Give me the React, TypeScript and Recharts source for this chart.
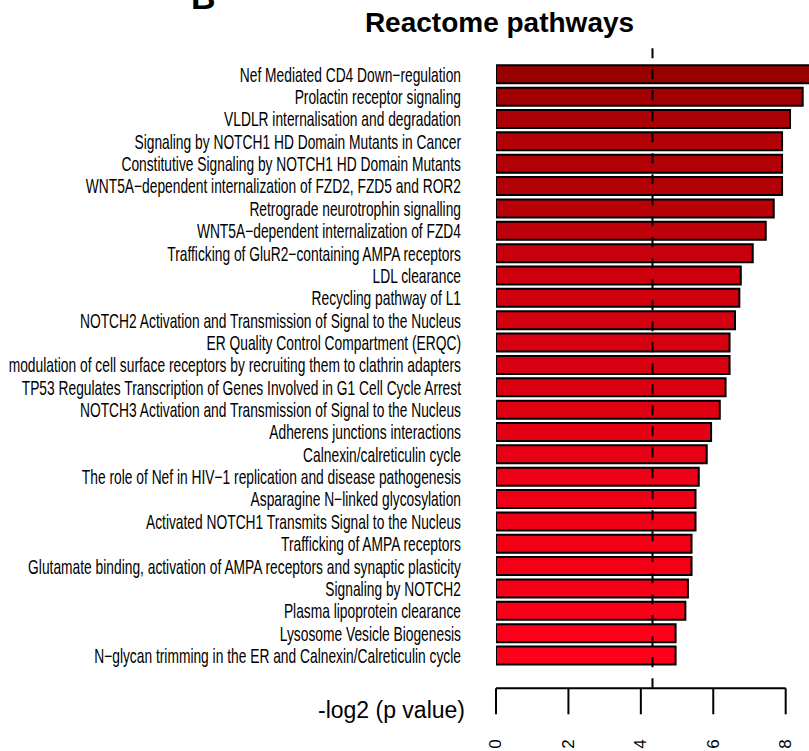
import { Bar, BarChart, Cell, ReferenceLine, XAxis, YAxis } from "recharts"

const PATHWAYS = [
  "Nef Mediated CD4 Down−regulation",
  "Prolactin receptor signaling",
  "VLDLR internalisation and degradation",
  "Signaling by NOTCH1 HD Domain Mutants in Cancer",
  "Constitutive Signaling by NOTCH1 HD Domain Mutants",
  "WNT5A−dependent internalization of FZD2, FZD5 and ROR2",
  "Retrograde neurotrophin signalling",
  "WNT5A−dependent internalization of FZD4",
  "Trafficking of GluR2−containing AMPA receptors",
  "LDL clearance",
  "Recycling pathway of L1",
  "NOTCH2 Activation and Transmission of Signal to the Nucleus",
  "ER Quality Control Compartment (ERQC)",
  "modulation of cell surface receptors by recruiting them to clathrin adapters",
  "TP53 Regulates Transcription of Genes Involved in G1 Cell Cycle Arrest",
  "NOTCH3 Activation and Transmission of Signal to the Nucleus",
  "Adherens junctions interactions",
  "Calnexin/calreticulin cycle",
  "The role of Nef in HIV−1 replication and disease pathogenesis",
  "Asparagine N−linked glycosylation",
  "Activated NOTCH1 Transmits Signal to the Nucleus",
  "Trafficking of AMPA receptors",
  "Glutamate binding, activation of AMPA receptors and synaptic plasticity",
  "Signaling by NOTCH2",
  "Plasma lipoprotein clearance",
  "Lysosome Vesicle Biogenesis",
  "N−glycan trimming in the ER and Calnexin/Calreticulin cycle",
]

// -log2(p value) per pathway
const NEG_LOG2_P = [
  8.8, 8.47, 8.12, 7.9, 7.9, 7.9, 7.67, 7.45, 7.09, 6.76, 6.72, 6.6, 6.45,
  6.45, 6.34, 6.18, 5.94, 5.82, 5.6, 5.51, 5.51, 5.4, 5.4, 5.3, 5.23, 4.96,
  4.96,
]

const X_TICKS = [0, 2, 4, 6, 8]
const P_CUTOFF = 0.05

const W = 809
const H = 751
const PLOT_LEFT = 496
const PLOT_TOP = 42
const X_MAX = 8.644
const AXIS_LEN = ((W - PLOT_LEFT) * 8) / X_MAX
const FONT = "'Liberation Sans', Arial, Helvetica, sans-serif"

const data = PATHWAYS.map((name, i) => ({ name, value: NEG_LOG2_P[i] }))

// dark red for the strongest hits, bright red for the weakest
function barColor(v: number) {
  const lo = Math.min(...NEG_LOG2_P)
  const hi = Math.max(...NEG_LOG2_P)
  const t = (hi - v) / (hi - lo)
  const r = Math.round(0x99 + t * (0xff - 0x99))
  const b = Math.round(t * 0x1a)
  return `rgb(${r},0,${b})`
}

function PathwayTick(props: any) {
  const { x, y, payload } = props
  return (
    <g transform={`translate(${x},${y})`}>
      <text
        transform="scale(0.69,1)"
        textAnchor="end"
        dy="0.36em"
        fontSize={20}
        fontFamily={FONT}
        fill="#000"
      >
        {payload.value}
      </text>
    </g>
  )
}

function ValueTick(props: any) {
  const { x, y, payload } = props
  return (
    <text
      x={x}
      y={y}
      transform={`rotate(-90 ${x} ${y})`}
      textAnchor="end"
      dominantBaseline="central"
      fontSize={17}
      fontFamily={FONT}
      fill="#000"
    >
      {payload.value}
    </text>
  )
}

export default function App() {
  return (
    <div
      style={{
        position: "absolute",
        left: 0,
        top: 0,
        width: W,
        height: H,
        overflow: "hidden",
        background: "#fff",
      }}
    >
      <BarChart
        width={W}
        height={H}
        data={data}
        layout="vertical"
        margin={{ top: PLOT_TOP, right: 0, bottom: 0, left: 0 }}
      >
        <XAxis
          type="number"
          domain={[0, X_MAX]}
          allowDataOverflow
          ticks={X_TICKS}
          height={62.7}
          axisLine={{
            stroke: "#000",
            strokeWidth: 2,
            strokeDasharray: `${AXIS_LEN} 2000`,
          }}
          tickLine={{ stroke: "#000", strokeWidth: 2 }}
          tickSize={26}
          tickMargin={25}
          tick={<ValueTick />}
          label={{
            content: ({ viewBox }: any) => (
              <text
                x={viewBox.x - 31}
                y={viewBox.y + 30}
                textAnchor="end"
                fontSize={23}
                fontFamily={FONT}
                fill="#000"
              >
                -log2 (p value)
              </text>
            ),
          }}
        />
        <YAxis
          type="category"
          dataKey="name"
          width={PLOT_LEFT}
          axisLine={false}
          tickLine={false}
          tickSize={6}
          tickMargin={29}
          interval={0}
          padding={{ top: 21.3, bottom: 21.4 }}
          tick={<PathwayTick />}
        />
        <Bar
          dataKey="value"
          barSize={18}
          stroke="#000"
          strokeWidth={2}
          isAnimationActive={false}
        >
          {data.map((d, i) => (
            <Cell key={i} fill={barColor(d.value)} />
          ))}
        </Bar>
        <ReferenceLine
          x={-Math.log2(P_CUTOFF)}
          stroke="#000"
          strokeWidth={2}
          strokeDasharray="10 11"
        />
      </BarChart>
      <svg
        width={W}
        height={H}
        style={{ position: "absolute", left: 0, top: 0, pointerEvents: "none" }}
      >
        <text x={191} y={9} fontSize={34} fontWeight="bold" fontFamily={FONT}>
          B
        </text>
        <text
          x={499.5}
          y={32}
          textAnchor="middle"
          fontSize={28}
          fontWeight="bold"
          fontFamily={FONT}
        >
          Reactome pathways
        </text>
      </svg>
    </div>
  )
}
